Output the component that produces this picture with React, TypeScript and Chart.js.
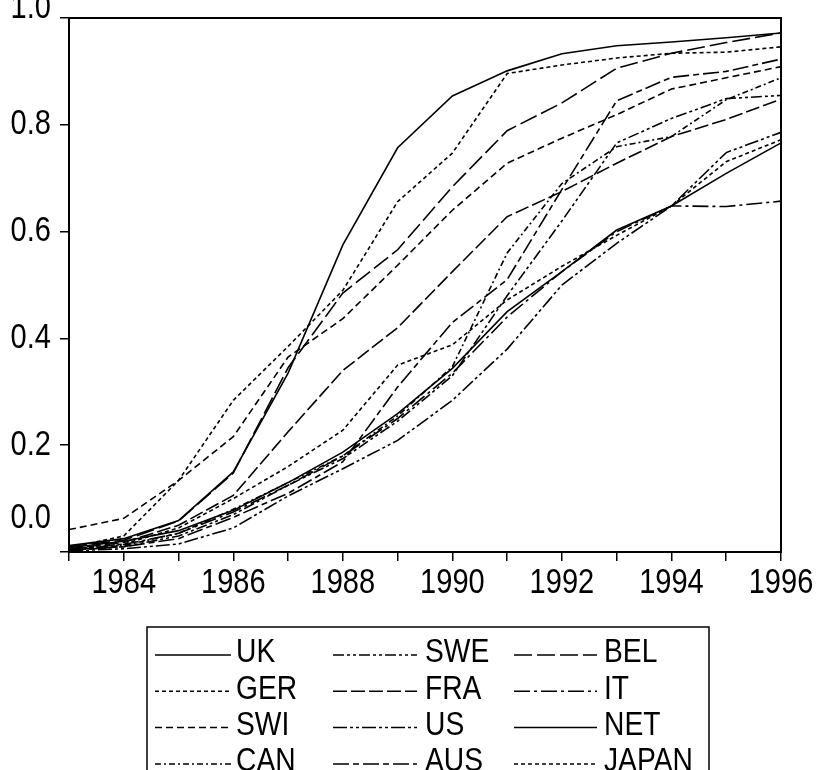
import React, { useEffect, useRef } from 'react';
import { Chart, registerables } from 'chart.js';

Chart.register(...registerables);

const years = [1983, 1984, 1985, 1986, 1987, 1988, 1989, 1990, 1991, 1992, 1993, 1994, 1995, 1996];

const UK = [0.012, 0.025, 0.059, 0.150, 0.335, 0.575, 0.757, 0.854, 0.901, 0.933, 0.948, 0.955, 0.963, 0.972];
const SWE = [0.003, 0.010, 0.030, 0.070, 0.125, 0.175, 0.245, 0.330, 0.480, 0.620, 0.766, 0.812, 0.849, 0.855];
const BEL = [0.010, 0.022, 0.058, 0.148, 0.345, 0.485, 0.566, 0.684, 0.789, 0.841, 0.906, 0.934, 0.954, 0.972];
const GER = [0.008, 0.030, 0.134, 0.284, 0.385, 0.490, 0.656, 0.747, 0.896, 0.912, 0.925, 0.934, 0.936, 0.946];
const FRA = [0.006, 0.018, 0.050, 0.106, 0.225, 0.340, 0.420, 0.525, 0.628, 0.675, 0.728, 0.778, 0.810, 0.848];
const IT = [0.005, 0.014, 0.035, 0.075, 0.125, 0.180, 0.250, 0.335, 0.440, 0.525, 0.600, 0.648, 0.647, 0.657];
const SWI = [0.042, 0.063, 0.134, 0.216, 0.365, 0.437, 0.537, 0.640, 0.728, 0.775, 0.819, 0.867, 0.888, 0.909];
const US = [0.002, 0.006, 0.015, 0.045, 0.105, 0.156, 0.209, 0.284, 0.380, 0.500, 0.578, 0.648, 0.748, 0.786];
const NET = [0.008, 0.020, 0.040, 0.078, 0.130, 0.187, 0.259, 0.344, 0.450, 0.525, 0.603, 0.648, 0.709, 0.766];
const CAN = [0.004, 0.012, 0.035, 0.080, 0.130, 0.180, 0.255, 0.347, 0.560, 0.690, 0.759, 0.778, 0.847, 0.888];
const AUS = [0.003, 0.010, 0.025, 0.065, 0.110, 0.169, 0.309, 0.430, 0.510, 0.679, 0.845, 0.889, 0.900, 0.923];
const JAPAN = [0.005, 0.015, 0.045, 0.100, 0.160, 0.228, 0.350, 0.388, 0.472, 0.535, 0.593, 0.648, 0.731, 0.772];

const seriesNames = ['UK', 'SWE', 'BEL', 'GER', 'FRA', 'IT', 'SWI', 'US', 'NET', 'CAN', 'AUS', 'JAPAN'];
const seriesValues = [UK, SWE, BEL, GER, FRA, IT, SWI, US, NET, CAN, AUS, JAPAN];
const seriesDashes: number[][] = [
  [],
  [11, 3, 3, 3, 3, 3],
  [18, 5],
  [4, 3],
  [14, 4],
  [16, 4, 3, 4],
  [7, 4],
  [14, 3, 3, 3, 3, 3],
  [],
  [6, 3, 2, 3],
  [16, 4, 6, 4],
  [4, 3],
];

const yTickValues = [0, 0.2, 0.4, 0.6, 0.8, 1.0];
const yTickLabels = ['0.0', '0.2', '0.4', '0.6', '0.8', '1.0'];
const xLabelYears = [1984, 1986, 1988, 1990, 1992, 1994, 1996];

const FONT = '"Liberation Sans", Arial, sans-serif';
const SQUEEZE = 0.83;

function narrowText(ctx: CanvasRenderingContext2D, text: string, x: number, y: number, align: CanvasTextAlign) {
  ctx.save();
  ctx.translate(x, y);
  ctx.scale(SQUEEZE, 1);
  ctx.textAlign = align;
  ctx.fillText(text, 0, 0);
  ctx.restore();
}

const framePlugin = {
  id: 'framePlugin',
  afterDraw(chart: any) {
    const { ctx, chartArea } = chart;
    const xs = chart.scales.x;
    const ys = chart.scales.y;
    ctx.save();
    ctx.strokeStyle = '#000';
    ctx.lineWidth = 2;
    ctx.setLineDash([]);
    ctx.strokeRect(chartArea.left, chartArea.top, chartArea.right - chartArea.left, chartArea.bottom - chartArea.top);

    ctx.fillStyle = '#000';
    ctx.font = `35px ${FONT}`;
    ctx.textBaseline = 'middle';
    yTickValues.forEach((v, i) => {
      let y = ys.getPixelForValue(v);
      if (i === 0) y -= 34;
      if (i === yTickValues.length - 1) y -= 10;
      narrowText(ctx, yTickLabels[i], chartArea.left - 18, y, 'right');
    });

    xLabelYears.forEach((yr) => {
      const x = xs.getPixelForValue(yr);
      narrowText(ctx, String(yr), x, chartArea.bottom + 31, 'center');
    });

    // legend
    const boxL = 147, boxT = 627, boxR = 709, boxB = 790;
    ctx.lineWidth = 1.5;
    ctx.strokeRect(boxL, boxT, boxR - boxL, boxB - boxT);
    const lineX0 = [155, 333, 514];
    const lineX1 = [231, 417, 597];
    const textX = [236, 425, 604];
    ctx.font = `34px ${FONT}`;
    chart.data.datasets.forEach((ds: any, i: number) => {
      const row = Math.floor(i / 3);
      const col = i % 3;
      const y = 655 + row * 36.3;
      ctx.save();
      ctx.lineWidth = 1.5;
      ctx.setLineDash(ds.borderDash || []);
      ctx.beginPath();
      ctx.moveTo(lineX0[col], y);
      ctx.lineTo(lineX1[col], y);
      ctx.stroke();
      ctx.restore();
      narrowText(ctx, ds.label, textX[col], y - 2, 'left');
    });
    ctx.restore();
  },
};

export default function App() {
  const ref = useRef<HTMLCanvasElement>(null);
  useEffect(() => {
    if (!ref.current) return;
    const chart = new Chart(ref.current, {
      type: 'line',
      data: {
        datasets: seriesNames.map((name, i) => ({
          label: name,
          data: years.map((yr, j) => ({ x: yr, y: seriesValues[i][j] })),
          borderColor: '#000',
          backgroundColor: '#000',
          borderWidth: 1.6,
          borderDash: seriesDashes[i],
          pointRadius: 0,
          tension: 0,
          fill: false,
        })),
      },
      options: {
        animation: false,
        responsive: false,
        devicePixelRatio: 1,
        layout: { padding: { left: 60, right: 35, top: 18, bottom: 209 } },
        plugins: { legend: { display: false }, tooltip: { enabled: false } },
        scales: {
          x: {
            type: 'linear',
            min: 1983,
            max: 1996,
            offset: false,
            border: { display: false },
            grid: { display: true, drawOnChartArea: false, drawTicks: true, tickLength: 9, color: '#000', lineWidth: 1.5 },
            ticks: { display: false, stepSize: 1 },
          },
          y: {
            type: 'linear',
            min: 0,
            max: 1,
            border: { display: false },
            grid: { display: true, drawOnChartArea: false, drawTicks: true, tickLength: 9, color: '#000', lineWidth: 1.5 },
            ticks: { display: false, stepSize: 0.2 },
          },
        },
      },
      plugins: [framePlugin],
    });
    return () => chart.destroy();
  }, []);
  return (
    <div style={{ position: 'absolute', left: 0, top: 0, width: 816, height: 770, background: '#fff' }}>
      <canvas ref={ref} width={816} height={770} style={{ display: 'block' }} />
    </div>
  );
}
